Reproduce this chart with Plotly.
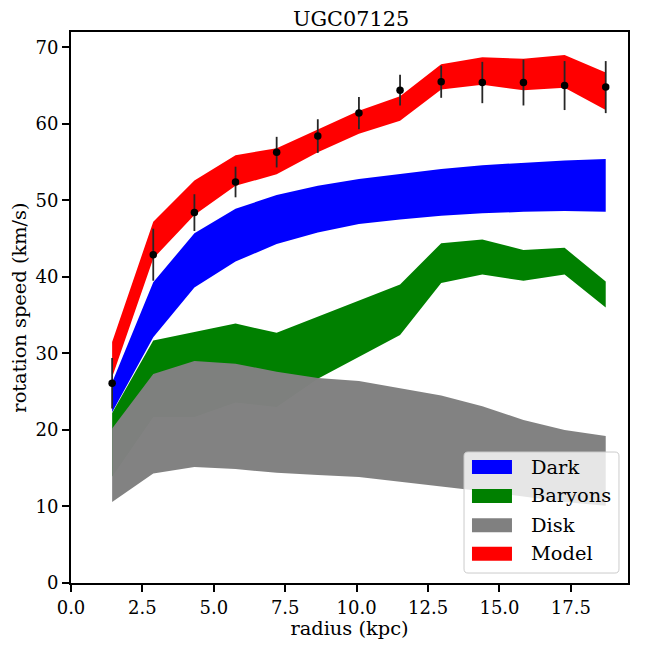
import plotly.graph_objects as go

radius = [1.44, 2.88, 4.32, 5.76, 7.2, 8.64, 10.08, 11.52, 12.96, 14.4, 15.84, 17.28, 18.72]
v_obs = [26.1, 42.9, 48.4, 52.4, 56.3, 58.4, 61.4, 64.4, 65.5, 65.4, 65.4, 65.0, 64.8]
v_err = [3.3, 3.4, 2.4, 2.0, 2.0, 2.2, 2.1, 2.0, 2.1, 2.7, 3.0, 3.2, 3.4]

dark_hi = [26.2, 39.3, 45.7, 48.9, 50.7, 51.9, 52.8, 53.5, 54.1, 54.6, 54.9, 55.2, 55.4]
dark_lo = [22.3, 32.1, 38.6, 42.0, 44.3, 45.8, 46.9, 47.5, 48.0, 48.3, 48.5, 48.6, 48.5]

bary_hi = [22.2, 31.7, 32.8, 33.9, 32.7, 34.8, 36.8, 39.0, 44.4, 44.9, 43.5, 43.8, 39.4]
bary_lo = [13.9, 21.7, 21.7, 23.6, 23.0, 26.7, 29.5, 32.4, 39.2, 40.3, 39.5, 40.3, 36.0]

disk_hi = [20.2, 27.3, 29.0, 28.65, 27.6, 26.8, 26.4, 25.4, 24.5, 23.1, 21.3, 20.0, 19.2]
disk_lo = [10.6, 14.3, 15.15, 14.9, 14.4, 14.1, 13.85, 13.2, 12.6, 12.0, 11.3, 10.6, 10.1]

model_hi = [31.5, 47.2, 52.6, 55.9, 56.8, 59.3, 61.7, 63.6, 67.8, 68.7, 68.5, 69.0, 66.7]
model_lo = [26.9, 42.4, 48.1, 51.9, 53.4, 56.3, 58.7, 60.4, 64.5, 65.1, 64.4, 64.7, 61.8]

band_names = ["Dark", "Baryons", "Disk", "Model"]
band_hi = [dark_hi, bary_hi, disk_hi, model_hi]
band_lo = [dark_lo, bary_lo, disk_lo, model_lo]
band_colors = ["rgb(0,0,255)", "rgb(0,128,0)", "rgba(128,128,128,0.985)", "rgb(255,0,0)"]
legend_colors = ["rgb(0,0,255)", "rgb(0,128,0)", "rgb(128,128,128)", "rgb(255,0,0)"]

FONT = "DejaVu Serif"

fig = go.Figure()
for name, hi, lo, col in zip(band_names, band_hi, band_lo, band_colors):
    fig.add_trace(go.Scatter(
        x=radius + radius[::-1],
        y=hi + lo[::-1],
        fill="toself",
        fillcolor=col,
        mode="lines",
        line=dict(width=0, color=col),
        name=name,
        hoverinfo="skip",
        showlegend=False,
    ))

fig.add_trace(go.Scatter(
    x=radius, y=v_obs,
    mode="markers",
    marker=dict(color="black", size=7.5),
    error_y=dict(type="data", array=v_err, visible=True, color="#262626", thickness=1.8, width=0),
    showlegend=False,
))

# manual legend (matplotlib style: rectangular patches, rounded frame)
bx0, bx1, by0, by1 = 0.7056, 0.9838, 0.0181, 0.2377
rx, ry = 0.0072, 0.0073
frame = (f"M{bx0+rx},{by0} L{bx1-rx},{by0} Q{bx1},{by0} {bx1},{by0+ry} "
         f"L{bx1},{by1-ry} Q{bx1},{by1} {bx1-rx},{by1} L{bx0+rx},{by1} "
         f"Q{bx0},{by1} {bx0},{by1-ry} L{bx0},{by0+ry} Q{bx0},{by0} {bx0+rx},{by0} Z")
shapes = [dict(type="path", xref="paper", yref="paper", path=frame,
               fillcolor="rgba(255,255,255,0.8)", line=dict(color="#cccccc", width=1),
               layer="above")]
annotations = []
row_y = [0.2105, 0.1579, 0.1047, 0.0530]
hh = 0.0127
for name, col, yc in zip(band_names, legend_colors, row_y):
    shapes.append(dict(type="rect", xref="paper", yref="paper",
                       x0=0.7199, x1=0.7917, y0=yc - hh, y1=yc + hh,
                       fillcolor=col, line=dict(width=0), layer="above"))
    annotations.append(dict(xref="paper", yref="paper", x=0.8217, y=yc,
                            xanchor="left", yanchor="middle", text=name, showarrow=False,
                            font=dict(family=FONT, size=19.4, color="black")))

fig.update_layout(
    width=640, height=640,
    margin=dict(l=63, r=20, t=24, b=65),
    paper_bgcolor="white",
    plot_bgcolor="white",
    font=dict(family=FONT, size=18, color="black"),
    title=dict(text="UGC07125", x=0.536, xanchor="center", y=0.983, yanchor="middle",
               font=dict(family=FONT, size=20.8, color="black")),
    shapes=shapes,
    annotations=annotations,
    showlegend=False,
)
fig.update_xaxes(
    range=[0, 19.5], dtick=2.5, tick0=0, tickformat=".1f",
    showgrid=False, zeroline=False, automargin=False,
    showline=True, linecolor="black", linewidth=1.8, mirror=True,
    ticks="outside", ticklen=7, tickwidth=1.6, tickcolor="black",
    tickfont=dict(family=FONT, size=18),
    title=dict(text="radius (kpc)", font=dict(family=FONT, size=19.4), standoff=2),
)
fig.update_yaxes(
    range=[0, 72], dtick=10, tick0=0,
    showgrid=False, zeroline=False, automargin=False,
    showline=True, linecolor="black", linewidth=1.8, mirror=True,
    ticks="outside", ticklen=7, tickwidth=1.6, tickcolor="black",
    tickfont=dict(family=FONT, size=18),
    title=dict(text="rotation speed (km/s)", font=dict(family=FONT, size=19.4), standoff=6),
)

fig.write_html("out.html")
